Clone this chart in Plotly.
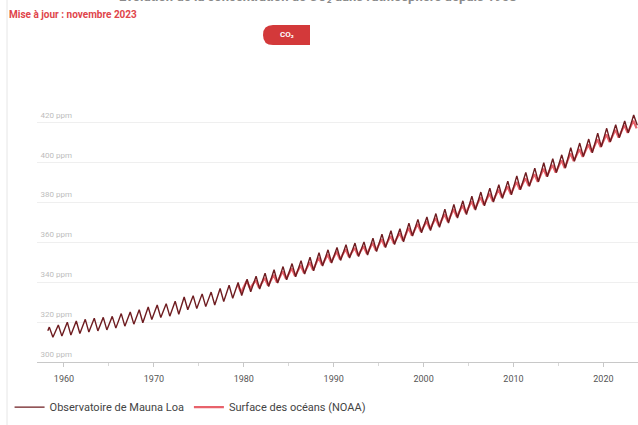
import plotly.graph_objects as go

# ---------------- data ----------------
ml_years = list(range(1958, 2024))
ml_start = 315.7  # March 1958
ml_peaks = [317.5, 318.6,
            320.0, 320.6, 321.4, 322.0, 322.4, 322.9, 324.3, 325.1, 326.2, 327.6,
            328.6, 329.3, 330.5, 332.6, 333.3, 334.2, 335.1, 336.9, 338.5, 339.9,
            341.5, 343.1, 344.6, 346.3, 347.9, 349.4, 350.8, 352.6, 354.9, 356.3,
            357.5, 358.9, 359.7, 360.3, 362.1, 364.2, 365.9, 366.9, 369.7, 371.6,
            372.8, 374.5, 376.7, 379.1, 380.9, 383.2, 385.3, 387.2, 389.0, 390.8,
            393.4, 395.1, 397.3, 400.0, 402.0, 404.0, 407.6, 409.9, 411.9, 414.8,
            417.3, 419.1, 421.0, 424.0]
ml_troughs = [312.4, 313.0,
              313.5, 314.3, 315.0, 315.6, 316.1, 317.0, 318.0, 319.0, 319.7, 321.3,
              322.3, 323.0, 324.0, 326.2, 326.8, 327.8, 328.6, 330.4, 332.0, 333.4,
              335.3, 336.6, 337.9, 339.6, 341.3, 342.8, 344.1, 345.8, 348.2, 349.7,
              351.0, 352.2, 352.9, 353.7, 355.4, 357.4, 359.0, 360.3, 363.2, 364.9,
              366.0, 367.6, 369.8, 372.3, 374.0, 376.3, 378.4, 380.3, 382.1, 383.9,
              386.5, 388.2, 390.4, 393.0, 395.1, 397.4, 400.8, 403.1, 405.0, 408.0,
              410.5, 412.6, 415.0, 418.8]

noaa_years = list(range(1979, 2024))
noaa_peaks = [338.7, 340.7, 341.1, 342.2, 343.7, 345.5, 347.0, 348.4, 350.0, 352.4,
              353.9, 355.4, 356.6, 357.3, 358.1, 359.8, 361.6, 363.3, 364.7, 367.3,
              369.3, 370.6, 372.2, 374.2, 376.7, 378.6, 380.6, 382.7, 384.5, 386.5,
              388.1, 390.4, 392.2, 394.3, 397.0, 398.9, 401.2, 404.7, 406.8, 409.2,
              411.7, 414.2, 416.5, 418.9, 421.1]
noaa_troughs = [334.9, 336.9, 337.3, 338.4, 339.9, 341.7, 343.2, 344.6, 346.2, 348.6,
                350.1, 351.6, 352.8, 353.5, 354.3, 356.0, 357.8, 359.5, 360.9, 363.5,
                365.5, 366.8, 368.4, 370.4, 372.9, 374.8, 376.8, 378.9, 380.7, 382.7,
                384.3, 386.6, 388.4, 390.5, 393.2, 395.1, 397.4, 400.9, 403.0, 405.4,
                407.9, 410.4, 412.7, 415.1, 417.3]

y_ticks = [300, 320, 340, 360, 380, 400, 420]
y_labels = ["300 ppm", "320 ppm", "340 ppm", "360 ppm", "380 ppm", "400 ppm", "420 ppm"]
x_ticks = [1960, 1970, 1980, 1990, 2000, 2010, 2020]

# ---------------- series assembly ----------------
ml_x, ml_y = [1958.2], [ml_start]
for yr, p, t in zip(ml_years, ml_peaks, ml_troughs):
    ml_x += [yr + 0.37, yr + 0.77]
    ml_y += [p, t]

noaa_x, noaa_y = [], []
for yr, p, t in zip(noaa_years, noaa_peaks, noaa_troughs):
    noaa_x += [yr + 0.33, yr + 0.70]
    noaa_y += [p, t]

ML_COLOR = "#6e1c20"
NOAA_COLOR = "#e8626b"
RED = "#d3393a"

fig = go.Figure()
fig.add_trace(go.Scatter(x=noaa_x, y=noaa_y, mode="lines", name="Surface des océans (NOAA)",
                         line=dict(color=NOAA_COLOR, width=2.2), legendrank=2))
fig.add_trace(go.Scatter(x=ml_x, y=ml_y, mode="lines", name="Observatoire de Mauna Loa",
                         line=dict(color=ML_COLOR, width=1.4), legendrank=1))

# pixel -> paper helpers (plot area: x 37..638, y 107..362)
L, R, T, B = 37, 638, 107, 362
def PX(px):
    return (px - L) / (R - L)
def PY(py):
    return (B - py) / (B - T)

badge = (f"M {PX(273)},{PY(25)} L {PX(310)},{PY(25)} L {PX(310)},{PY(45)} "
         f"L {PX(273)},{PY(45)} Q {PX(263)},{PY(45)} {PX(263)},{PY(35)} "
         f"Q {PX(263)},{PY(25)} {PX(273)},{PY(25)} Z")

fig.update_layout(
    width=638, height=425,
    margin=dict(l=L, r=0, t=T, b=425 - B),
    paper_bgcolor="white", plot_bgcolor="white",
    font=dict(family="Roboto, Arial, sans-serif", size=9, color="#555"),
    showlegend=True,
    legend=dict(orientation="h", xref="container", yref="container",
                x=0.015, y=0.042, xanchor="left", yanchor="middle",
                font=dict(size=11, color="#444"), itemwidth=30, tracegroupgap=0,
                bgcolor="rgba(0,0,0,0)"),
    xaxis=dict(range=[1957.0, 2023.85], tickvals=x_ticks, showgrid=False, zeroline=False,
               showline=True, linecolor="#c8c8c8", linewidth=1,
               ticks="outside", ticklen=4, tickcolor="#c8c8c8",
               minor=dict(dtick=5, ticks="outside", ticklen=3, tickcolor="#d8d8d8", showgrid=False),
               tickfont=dict(size=9, color="#555"), ticklabelstandoff=4, fixedrange=True),
    yaxis=dict(range=[300, 428], tickvals=y_ticks, ticktext=y_labels,
               ticklabelposition="outside", ticklabelstandoff=-36, ticklabelshift=-8,
               showgrid=True, gridcolor="#efefef",
               gridwidth=1, zeroline=False, showline=False, ticks="",
               tickfont=dict(size=8, color="#bdbdbd"), fixedrange=True),
    shapes=[
        dict(type="line", xref="paper", yref="paper", x0=PX(7), x1=PX(7),
             y0=PY(425), y1=PY(0), line=dict(color="#e6e6e6", width=1)),
        dict(type="path", xref="paper", yref="paper", path=badge,
             fillcolor=RED, line=dict(width=0)),
    ],
    annotations=[
        dict(xref="paper", yref="paper", x=PX(318), y=PY(-4), xanchor="center", yanchor="middle",
             text="<b>Évolution de la concentration de CO₂ dans l'atmosphère depuis 1958</b>",
             showarrow=False, font=dict(size=13, color="#8a8a8a")),
        dict(xref="paper", yref="paper", x=PX(7), y=PY(15), xanchor="left", yanchor="middle",
             text="<b>Mise à jour : novembre 2023</b>", showarrow=False,
             font=dict(size=10, color="#e0454b")),
        dict(xref="paper", yref="paper", x=PX(287), y=PY(35), xanchor="center", yanchor="middle",
             text="<b>CO₂</b>", showarrow=False,
             font=dict(size=8, color="white")),
    ],
)

fig.write_html("out.html", config={"displayModeBar": False},
               post_script="document.body.style.margin='0';document.body.style.overflow='hidden';")
